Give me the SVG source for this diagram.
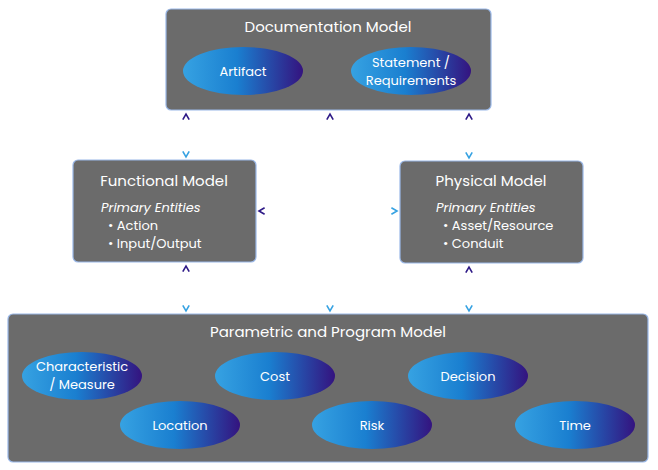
<svg xmlns="http://www.w3.org/2000/svg" width="658" height="470" viewBox="0 0 658 470">
<defs>
<linearGradient id="eg" x1="0" y1="0" x2="1" y2="0"><stop offset="0" stop-color="#36a2e2"/><stop offset="0.45" stop-color="#1a7fd0"/><stop offset="1" stop-color="#34137f"/></linearGradient>
<linearGradient id="vg" x1="0" y1="0" x2="0" y2="1"><stop offset="0" stop-color="#2e1a87"/><stop offset="1" stop-color="#36a2e2"/></linearGradient>
<linearGradient id="hg" x1="0" y1="0" x2="1" y2="0"><stop offset="0" stop-color="#2e1a87"/><stop offset="1" stop-color="#36a2e2"/></linearGradient>
<marker id="ad" viewBox="0 0 10 10" refX="8" refY="5" markerWidth="4" markerHeight="4" orient="auto-start-reverse"><path d="M1,1 L8,5 L1,9" fill="none" stroke="#2e1a87" stroke-width="2"/></marker>
<marker id="al" viewBox="0 0 10 10" refX="8" refY="5" markerWidth="4" markerHeight="4" orient="auto"><path d="M1,1 L8,5 L1,9" fill="none" stroke="#36a2e2" stroke-width="2"/></marker>
</defs>
<style>
.box{fill:#6b6b6b;stroke:#9ab8e8;stroke-width:1.2}
.t{font-family:Poppins,"Open Sans","Liberation Sans",sans-serif;fill:#fff}
.h{font-size:15px;text-anchor:middle}
.e{font-size:13px;text-anchor:middle}
.i{font-size:13px;font-style:italic}
.b{font-size:13px}
.el{fill:url(#eg)}
</style>
<rect width="658" height="470" fill="#fff"/>
<g id="connectors" fill="none" stroke-width="2">
<line x1="186" y1="114" x2="186" y2="157" stroke="url(#vg)" marker-start="url(#ad)" marker-end="url(#al)"/>
<line x1="469" y1="114" x2="469" y2="158" stroke="url(#vg)" marker-start="url(#ad)" marker-end="url(#al)"/>
<line x1="186" y1="266" x2="186" y2="311" stroke="url(#vg)" marker-start="url(#ad)" marker-end="url(#al)"/>
<line x1="469" y1="267" x2="469" y2="311" stroke="url(#vg)" marker-start="url(#ad)" marker-end="url(#al)"/>
<line x1="330" y1="114" x2="330" y2="311" stroke="url(#vg)" marker-start="url(#ad)" marker-end="url(#al)"/>
<line x1="259" y1="211" x2="397" y2="211" stroke="url(#hg)" marker-start="url(#ad)" marker-end="url(#al)"/>
</g>
<g id="doc">
<rect class="box" x="166" y="9" width="325" height="101" rx="5"/>
<text class="t h" x="328" y="32">Documentation Model</text>
<ellipse class="el" cx="243" cy="71" rx="60" ry="24"/>
<text class="t e" x="243" y="76">Artifact</text>
<ellipse class="el" cx="411" cy="71" rx="60" ry="24"/>
<text class="t e" x="411" y="67">Statement /</text>
<text class="t e" x="411" y="85">Requirements</text>
</g>
<g id="functional">
<rect class="box" x="73" y="160" width="183" height="102" rx="5"/>
<text class="t h" x="164" y="186">Functional Model</text>
<text class="t i" x="101" y="212">Primary Entities</text>
<text class="t b" x="108" y="230">•  Action</text>
<text class="t b" x="108" y="248">•  Input/Output</text>
</g>
<g id="physical">
<rect class="box" x="400" y="161" width="183" height="102" rx="5"/>
<text class="t h" x="491" y="186">Physical Model</text>
<text class="t i" x="436" y="212">Primary Entities</text>
<text class="t b" x="443" y="230">•  Asset/Resource</text>
<text class="t b" x="443" y="248">•  Conduit</text>
</g>
<g id="parametric">
<rect class="box" x="8" y="314" width="640" height="148" rx="5"/>
<text class="t h" x="328" y="337">Parametric and Program Model</text>
<ellipse class="el" cx="82" cy="376" rx="60" ry="24"/>
<text class="t e" x="82" y="371">Characteristic</text>
<text class="t e" x="82" y="389">/ Measure</text>
<ellipse class="el" cx="275" cy="376" rx="60" ry="24"/>
<text class="t e" x="275" y="381">Cost</text>
<ellipse class="el" cx="468" cy="376" rx="60" ry="24"/>
<text class="t e" x="468" y="381">Decision</text>
<ellipse class="el" cx="180" cy="425" rx="60" ry="24"/>
<text class="t e" x="180" y="430">Location</text>
<ellipse class="el" cx="372" cy="425" rx="60" ry="24"/>
<text class="t e" x="372" y="430">Risk</text>
<ellipse class="el" cx="575" cy="425" rx="60" ry="24"/>
<text class="t e" x="575" y="430">Time</text>
</g>
</svg>
